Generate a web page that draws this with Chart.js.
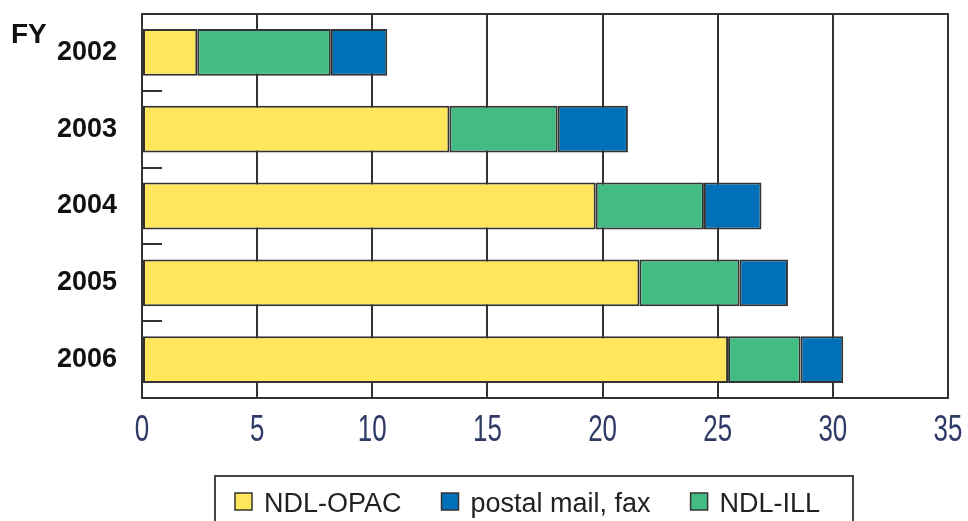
<!DOCTYPE html>
<html>
<head>
<meta charset="utf-8">
<script src="https://cdn.jsdelivr.net/npm/chart.js@4.4.1/dist/chart.umd.min.js"></script>
<style>
  body { margin: 0; background: #fff; }
  canvas { display: block; }
</style>
</head>
<body>
<canvas id="graph" width="968" height="521"></canvas>
<script>
var years = ["2002", "2003", "2004", "2005", "2006"];
var opac = [2.4, 13.35, 19.7, 21.6, 25.45];
var ill = [5.8, 4.7, 4.7, 4.35, 3.15];
var postal = [2.45, 3.05, 2.5, 2.1, 1.85];
var xTicks = [0, 5, 10, 15, 20, 25, 30, 35];

var edge = '#333333';

// frame, little tick marks between years, FY label, x labels, legend
var decor = {
  id: 'decor',
  afterDraw: function (chart) {
    var ctx = chart.ctx;
    var a = chart.chartArea;
    var x = chart.scales.x, y = chart.scales.y;
    ctx.save();
    ctx.strokeStyle = edge;
    ctx.lineWidth = 2;
    ctx.strokeRect(a.left, a.top, a.right - a.left, a.bottom - a.top);

    ctx.beginPath();
    for (var i = 0; i < years.length - 1; i++) {
      var yy = Math.round((y.getPixelForValue(i) + y.getPixelForValue(i + 1)) / 2);
      ctx.moveTo(a.left, yy);
      ctx.lineTo(a.left + 20, yy);
    }
    ctx.stroke();

    ctx.fillStyle = '#111';
    ctx.font = 'bold 28px "Liberation Sans", Arial, sans-serif';
    ctx.textAlign = 'left';
    ctx.textBaseline = 'alphabetic';
    ctx.fillText('FY', 11, 43);

    ctx.fillStyle = '#2f3b66';
    ctx.font = '36px "Liberation Sans", Arial, sans-serif';
    ctx.textAlign = 'center';
    ctx.textBaseline = 'middle';
    x.ticks.forEach(function (t) {
      ctx.save();
      ctx.translate(x.getPixelForValue(t.value), 431);
      ctx.scale(0.72, 1);
      ctx.fillText(String(t.value), 0, 0);
      ctx.restore();
    });

    // legend
    ctx.strokeStyle = '#444';
    ctx.lineWidth = 2;
    ctx.strokeRect(215, 476, 638, 60);
    ctx.font = '27px "Liberation Sans", Arial, sans-serif';
    ctx.textAlign = 'left';
    ctx.textBaseline = 'alphabetic';
    var lx = 235;
    [0, 2, 1].forEach(function (k) {
      var ds = chart.data.datasets[k];
      ctx.fillStyle = ds.backgroundColor;
      ctx.fillRect(lx, 493, 17, 17);
      ctx.strokeStyle = edge;
      ctx.lineWidth = 1.5;
      ctx.strokeRect(lx, 493, 17, 17);
      ctx.fillStyle = '#222';
      ctx.fillText(ds.label, lx + 29, 512);
      lx += 29 + ctx.measureText(ds.label).width + 40;
    });
    ctx.restore();
  }
};

var ctx = document.getElementById("graph").getContext('2d');

var myChart = new Chart(ctx, {
  type: 'bar',
  data: {
    labels: years,
    datasets: [
      { label: 'NDL-OPAC', data: opac, backgroundColor: '#FFE65A' },
      { label: 'NDL-ILL', data: ill, backgroundColor: '#43BC83' },
      { label: 'postal mail, fax', data: postal, backgroundColor: '#0070B8' }
    ]
  },
  options: {
    indexAxis: 'y',
    responsive: false,
    animation: false,
    devicePixelRatio: 1,
    layout: { padding: { left: 0, right: 20, top: 14, bottom: 0 } },
    datasets: {
      bar: {
        borderColor: edge,
        borderWidth: 2,
        borderSkipped: false,
        categoryPercentage: 1,
        barPercentage: 0.61
      }
    },
    plugins: {
      legend: { display: false },
      tooltip: { enabled: false }
    },
    scales: {
      x: {
        stacked: true,
        min: 0,
        max: 35,
        afterBuildTicks: function (s) {
          s.ticks = xTicks.map(function (v) { return { value: v }; });
        },
        afterFit: function (s) {
          s.height = 123;
          s.paddingLeft = 0; s.paddingRight = 0;
        },
        ticks: { display: false },
        grid: { color: edge, lineWidth: 2, drawTicks: false },
        border: { display: false }
      },
      y: {
        stacked: true,
        afterFit: function (s) {
          s.width = 142;
          s.paddingTop = 0; s.paddingBottom = 0;
        },
        ticks: {
          color: '#111',
          padding: 17,
          font: { family: '"Liberation Sans", Arial, sans-serif', size: 27, weight: 'bold' }
        },
        grid: { display: false },
        border: { display: false }
      }
    }
  },
  plugins: [decor]
});
</script>
</body>
</html>
